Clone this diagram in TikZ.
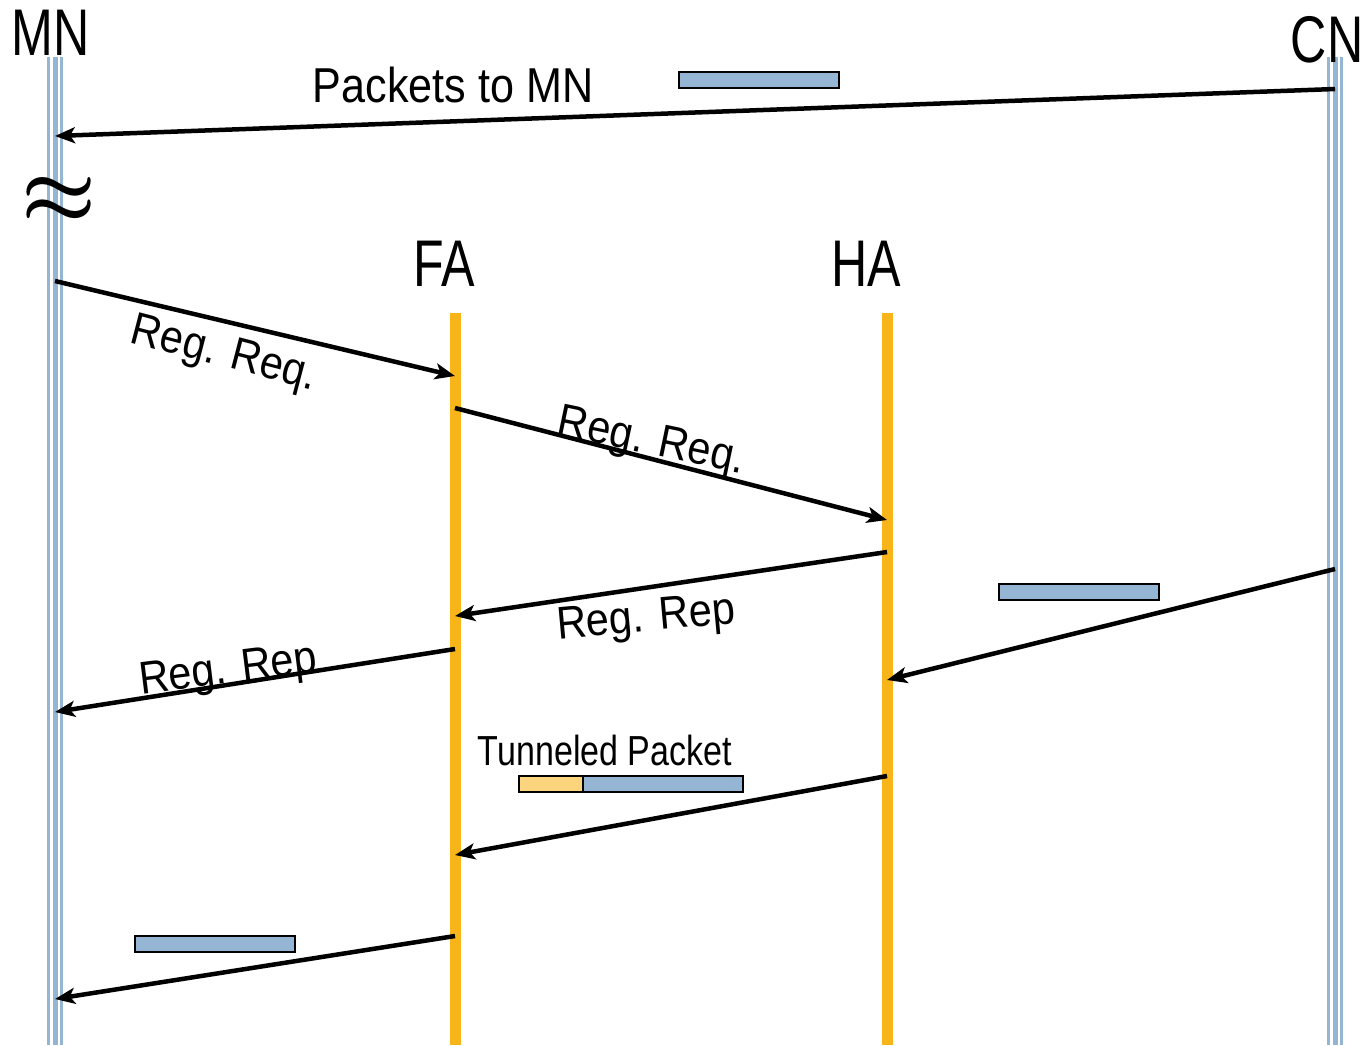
\documentclass[tikz,border=0pt]{standalone}
\usepackage{fontspec}
\setmainfont{Liberation Sans}
\newfontfamily\ftitle[FakeStretch=0.76]{Liberation Sans}
\newfontfamily\fpkt[FakeStretch=0.88]{Liberation Sans}
\newfontfamily\freg[FakeStretch=0.9]{Liberation Sans}
\newfontfamily\ftun[FakeStretch=0.81]{Liberation Sans}
\usetikzlibrary{arrows.meta}
\definecolor{lifeblue}{HTML}{95B6D3}
\definecolor{agentorange}{HTML}{F7B519}
\definecolor{pktblue}{HTML}{94B6D4}
\definecolor{pktyellow}{HTML}{FCD47E}
\tikzset{
  msg/.style={line width=4.5pt, -{Stealth[length=20pt,width=16pt,inset=5pt]}},
  agentline/.style={agentorange, line width=11pt},
  titlelbl/.style={anchor=base, inner sep=0pt, font=\fontsize{66}{66}\ftitle},
  reglbl/.style={anchor=base, inner sep=0pt, font=\fontsize{46}{46}\freg},
  pkt/.style={draw=black, line width=2pt, fill=pktblue, rectangle, inner sep=0pt, minimum height=16pt, minimum width=160pt},
}
\begin{document}
\begin{tikzpicture}[x=1pt,y=-1pt]
\useasboundingbox (0,0) rectangle (1367,1045);
% lifeline coordinates
\coordinate (MNtop) at (55,57);
\coordinate (MNbot) at (55,1045);
\coordinate (CNtop) at (1335,57);
\coordinate (CNbot) at (1335,1045);
\coordinate (FAtop) at (455,313);
\coordinate (FAbot) at (455,1045);
\coordinate (HAtop) at (887,313);
\coordinate (HAbot) at (887,1045);
% MN and CN triple lines
\foreach \L in {MN,CN}{
  \draw[lifeblue, line width=3pt] ([xshift=-6.5pt]\L top) -- ([xshift=-6.5pt]\L bot);
  \draw[lifeblue, line width=5pt] (\L top) -- (\L bot);
  \draw[lifeblue, line width=3pt] ([xshift=6.5pt]\L top) -- ([xshift=6.5pt]\L bot);
}
% FA and HA lines
\draw[agentline] (FAtop) -- (FAbot);
\draw[agentline] (HAtop) -- (HAbot);
% titles
\node[titlelbl] (mnlbl) at (51,55) {MN};
\node[titlelbl] (cnlbl) at (1327,62) {CN};
\node[titlelbl] (falbl) at (444,286) {FA};
\node[titlelbl] (halbl) at (866,286) {HA};
% break symbol
\node[inner sep=0pt] (brk) at (59,200) {\scalebox{8.4}{\boldmath$\approx$}};
% message end points
\coordinate (cn1) at (1335,89);
\coordinate (mn1) at (55,136);
\coordinate (mn2) at (55,281);
\coordinate (fa2) at (455,376);
\coordinate (fa3) at (455,408);
\coordinate (ha3) at (887,520);
\coordinate (ha4) at (887,552);
\coordinate (fa4) at (455,616);
\coordinate (fa5) at (455,649);
\coordinate (mn5) at (55,712);
\coordinate (cn6) at (1335,569);
\coordinate (ha6) at (887,680);
\coordinate (ha7) at (887,776);
\coordinate (fa7) at (455,855);
\coordinate (fa8) at (455,936);
\coordinate (mn8) at (55,999);
% messages
\draw[msg] (cn1) -- (mn1);
\draw[msg] (mn2) -- (fa2);
\draw[msg] (fa3) -- (ha3);
\draw[msg] (ha4) -- (fa4);
\draw[msg] (fa5) -- (mn5);
\draw[msg] (cn6) -- (ha6);
\draw[msg] (ha7) -- (fa7);
\draw[msg] (fa8) -- (mn8);
% labels
\node[anchor=base, inner sep=0pt, font=\fontsize{49}{49}\fpkt] (pktlbl) at (453,102) {Packets to MN};
\node[reglbl, rotate=-14.6] (req1) at (221,366) {Reg. Req.};
\node[reglbl, rotate=-11.8] (req2) at (649,454) {Reg. Req.};
\node[reglbl, rotate=5.2] (rep1) at (647,631) {Reg. Rep};
\node[reglbl, rotate=7.1] (rep2) at (230,683) {Reg. Rep};
\node[anchor=base, inner sep=0pt, font=\fontsize{42}{42}\ftun] (tunlbl) at (605,765) {Tunneled Packet};
% packets
\node[pkt] (p1) at (759,80) {};
\node[pkt] (p2) at (1079,592) {};
\node[pkt] (p3) at (215,944) {};
\node[pkt, fill=pktyellow, minimum width=64pt] (p4h) at (551,784) {};
\node[pkt] (p4) at (663,784) {};
\end{tikzpicture}
\end{document}
